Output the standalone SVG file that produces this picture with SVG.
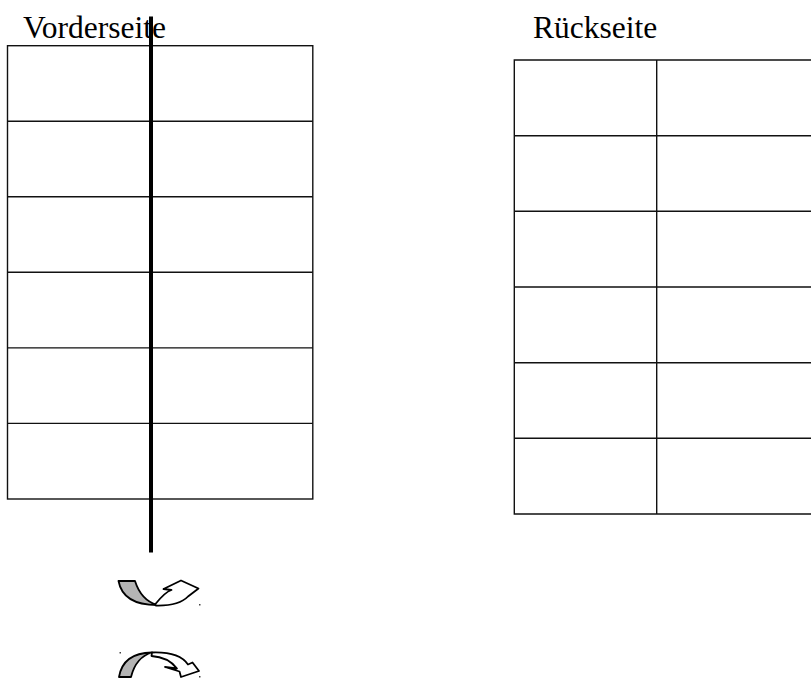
<svg xmlns="http://www.w3.org/2000/svg" width="811" height="678" viewBox="0 0 811 678">
  <style>
    .label { font-family: "Liberation Serif", "Times New Roman", serif; font-size: 31.5px; fill: #000; }
    .grid { fill: none; stroke: #111; stroke-width: 1.4; }
    .fold { stroke: #000; stroke-width: 4; }
    .back { fill: #b4b4b4; stroke: #000; stroke-width: 1.8; stroke-linejoin: round; }
    .front { fill: #fff; stroke: #000; stroke-width: 1.8; stroke-linejoin: round; }
  </style>
  <rect width="811" height="678" fill="#fff"/>

  <!-- front side: six rows -->
  <g id="front-side">
    <text class="label" x="23" y="37.5">Vorderseite</text>
    <rect class="grid" x="7.5" y="45.7" width="305.3" height="453.3"/>
    <path class="grid" d="M7.5,121.2H312.8M7.5,196.8H312.8M7.5,272.3H312.8M7.5,347.9H312.8M7.5,423.4H312.8"/>
  </g>

  <!-- back side: six rows, two columns, runs off the right edge -->
  <g id="back-side">
    <text class="label" x="533" y="38.3">Rückseite</text>
    <path class="grid" d="M820,60H514.3V514H820M656.7,60V514M514.3,135.7H820M514.3,211.3H820M514.3,287H820M514.3,362.7H820M514.3,438.3H820"/>
  </g>

  <!-- fold line -->
  <g id="fold-line">
    <line class="fold" x1="151" y1="16.5" x2="151" y2="552.5"/>
  </g>

  <!-- turn arrows -->
  <g id="turn-up">
    <path class="back" d="M118.5,581 L135,581 Q141,600 157,605 Q123,605 118.5,581 Z"/>
    <path class="front" d="M155,604.5 Q165,592 171.5,590 L163.5,589 L181,580.5 L198.5,588.5 L188,596.5 Q179,606 156,605.5 Z"/>
    <rect x="199" y="604" width="1.5" height="1.5" fill="#444"/>
  </g>
  <g id="turn-down">
    <path class="back" d="M119,677 Q123,653 152,652.5 Q136,657 131,677 Z"/>
    <path class="front" d="M152,652.5 Q179,651.5 188,664.5 L192.5,662.5 L199,671 L181,677 L179.5,671.5 L165,667 L177,668.5 Q168,657 151.5,656 Z"/>
    <rect x="119.5" y="652" width="1.5" height="1.5" fill="#444"/>
    <rect x="199" y="676" width="1.5" height="1.5" fill="#444"/>
  </g>
</svg>
